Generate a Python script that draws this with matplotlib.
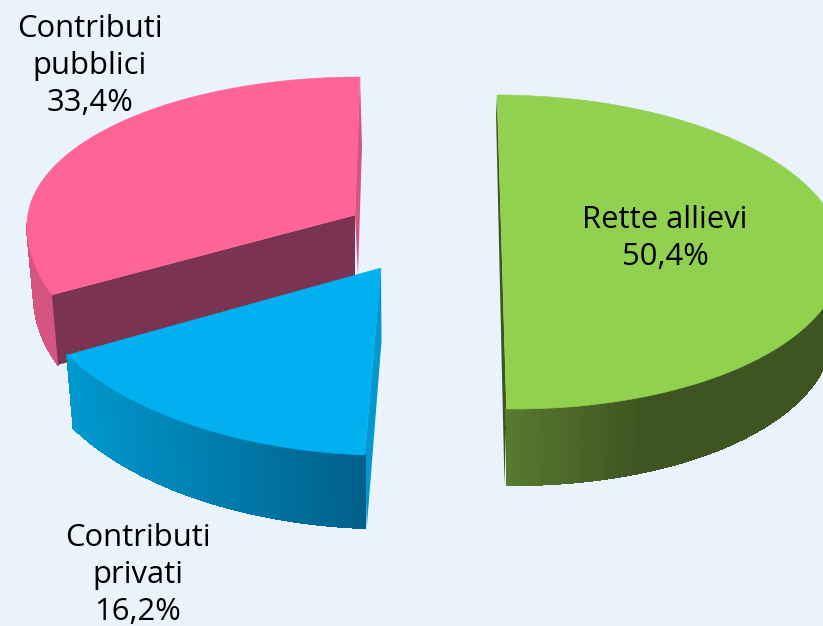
import numpy as np
import matplotlib
matplotlib.use('Agg')
import matplotlib.pyplot as plt
from matplotlib.colors import to_rgb
from matplotlib.patches import Polygon

labels = ['Rette allievi', 'Contributi\npubblici', 'Contributi\nprivati']
values = [50.4, 33.4, 16.2]

bg = '#EAF2FB'

# one dict per slice, drawn back to front. pixel space, y goes down
styles = [
    dict(face='#92D050', wall=('#587A30', '#3E5522'), inner='#3E5522', grad=(505, 640),
         cx=506, cy=252, rx=336, ry_back=157, ry_front=157, skew=0.057, warp=1.0,
         start=0, clockwise=True, apex=(502, 252), depth=76, shrink=0.97,
         edge='chord', side=((-1, 20), (-2, 76)), text=(665, 238.5)),
    dict(face='#FF6496', wall=('#D4557F', '#D4557F'), inner='#D4557F', grad=(0, 100),
         cx=360, cy=225, rx=333, ry_back=148, ry_front=184, skew=0, warp=0.934,
         start=0, clockwise=False, apex=(355, 215), depth=70, shrink=0.98,
         edge='start', side=((2, 68), (3, 60)), cut='#7A3350', text=(90, 66)),
    dict(face='#00B0F0', wall=('#0098CE', '#00608A'), inner='#0098CE', grad=(70, 366),
         cx=381, cy=268, rx=359, ry_back=187.5, ry_front=187.5, skew=0.047, warp=1.0,
         start=184, clockwise=True, apex=(381, 268), depth=73, shrink=0.98,
         edge='apex', side=((0.5, 73), (2, 73)), text=(138, 575)),
]


def arc_angles(s, sweep):
    return np.radians(s['start'] + np.linspace(0, sweep, 240) * s['warp'])


def arc_points(s, sweep, scale=1.0, dy=0.0):
    t = arc_angles(s, sweep)
    c = np.cos(t)
    ry = np.where(c > 0, s['ry_back'], s['ry_front'])
    off = -ry * c
    x = s['cx'] + s['rx'] * scale * np.sin(t) + s['skew'] * off
    y = s['cy'] + off + dy
    return np.column_stack([x, y])


def draw_slice(ax, value, label, s):
    sweep = value / sum(values) * 360
    if not s['clockwise']:
        sweep = -sweep
    top = arc_points(s, sweep)
    low = arc_points(s, sweep, s['shrink'], s['depth'])
    apex = np.array(s['apex'], dtype=float)

    # thin side wall along the cut edge
    if s['edge'] == 'chord':
        p, q = top[0], top[-1]
    elif s['edge'] == 'start':
        p, q = top[0], apex
    else:
        p, q = apex, top[0]
    a, b = s['side']
    ax.add_patch(Polygon([p, p + a, q + b, q], facecolor=s['inner'], edgecolor='none'))

    # outer wall as thin strips so it can carry the left-right gradient
    c0, c1 = np.array(to_rgb(s['wall'][0])), np.array(to_rgb(s['wall'][1]))
    t = arc_angles(s, sweep)
    for i in range(len(top) - 1):
        if np.cos(t[i]) > 0.02:  # back half is hidden behind the face
            continue
        xm = (top[i, 0] + top[i + 1, 0]) / 2
        f = np.clip((xm - s['grad'][0]) / (s['grad'][1] - s['grad'][0]), 0, 1)
        col = c0 + (c1 - c0) * f
        ax.add_patch(Polygon([top[i], top[i + 1], low[i + 1], low[i]],
                             facecolor=col, edgecolor=col, lw=0.8, antialiased=False))

    if 'cut' in s:
        ax.add_patch(Polygon([apex, top[-1], low[-1], apex + (0, s['depth'])],
                             facecolor=s['cut'], edgecolor='none'))

    face = np.vstack([apex, top])
    ax.add_patch(Polygon(face, facecolor=s['face'], edgecolor=s['face'], lw=0.4))

    txt = '{}\n{:.1f}%'.format(label, value).replace('.', ',')
    return txt, s['text']


fig = plt.figure(figsize=(8.23, 6.26), dpi=100, facecolor=bg)
ax = fig.add_axes([0, 0, 1, 1])
ax.set_xlim(0, 823)
ax.set_ylim(626, 0)
ax.axis('off')

texts = []
for value, label, s in zip(values, labels, styles):
    texts.append(draw_slice(ax, value, label, s))

for txt, pos in texts:
    ax.text(pos[0], pos[1], txt, ha='center', va='center', fontsize=22.3,
            family='Open Sans', color='black', linespacing=1.3)

fig.savefig('out.png', dpi=100, facecolor=bg)
